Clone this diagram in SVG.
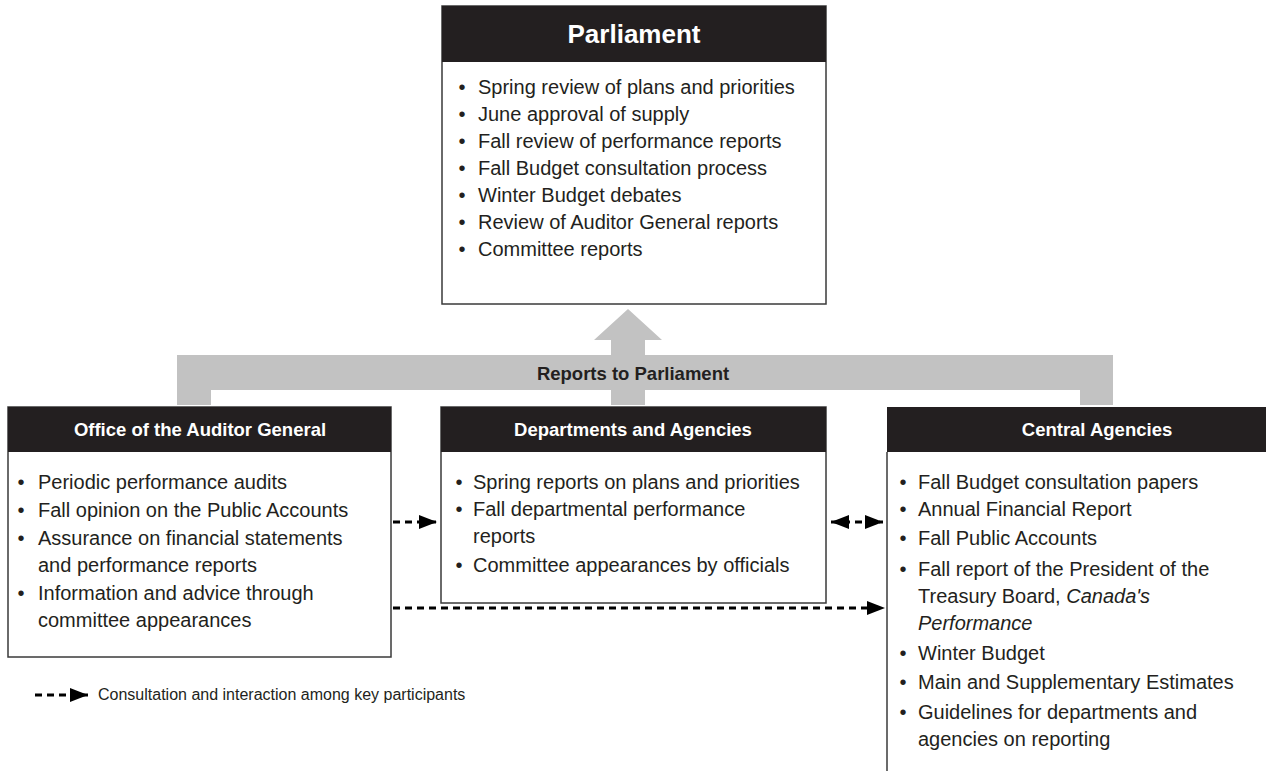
<svg xmlns="http://www.w3.org/2000/svg" width="1266" height="771" viewBox="0 0 1266 771">
<style>
.hdr{fill:#231f20}
.box{fill:#fff;stroke:#3a3a3a;stroke-width:1.5}
.ttl{font-family:"Liberation Sans",Arial,sans-serif;font-weight:bold;fill:#fff;text-anchor:middle}
.t{font-family:"Liberation Sans",Arial,sans-serif;font-size:20px;fill:#231f20}
.b{font-family:"Liberation Sans",Arial,sans-serif;font-size:20px;fill:#231f20;text-anchor:middle}
.dash{stroke:#000;stroke-width:3;stroke-dasharray:7 5;fill:none}
.grey{fill:#c2c2c2}
</style>
<defs>
<marker id="ah" markerUnits="userSpaceOnUse" markerWidth="18" markerHeight="14" refX="18" refY="7" orient="auto-start-reverse">
<path d="M0,0 L18,7 L0,14 z" fill="#000"/>
</marker>
</defs>

<g id="reports-arrow">
<path class="grey" d="M628,309 L662,340 L645,340 L645,355 L1113,355 L1113,405 L1080,405 L1080,390 L645,390 L645,405 L611,405 L611,390 L211,390 L211,405 L177,405 L177,355 L611,355 L611,340 L594,340 Z"/>
<text x="633" y="380" style="font-family:'Liberation Sans',Arial,sans-serif;font-weight:bold;font-size:18.5px;fill:#231f20" text-anchor="middle">Reports to Parliament</text>
</g>

<g id="parliament">
<rect class="box" x="442" y="6" width="384" height="298"/>
<rect class="hdr" x="442" y="6" width="384" height="56"/>
<text class="ttl" x="634" y="43" font-size="26">Parliament</text>
<text class="b" x="462" y="94">•</text><text class="t" x="478" y="94">Spring review of plans and priorities</text>
<text class="b" x="462" y="121">•</text><text class="t" x="478" y="121">June approval of supply</text>
<text class="b" x="462" y="148">•</text><text class="t" x="478" y="148">Fall review of performance reports</text>
<text class="b" x="462" y="175">•</text><text class="t" x="478" y="175">Fall Budget consultation process</text>
<text class="b" x="462" y="202">•</text><text class="t" x="478" y="202">Winter Budget debates</text>
<text class="b" x="462" y="229">•</text><text class="t" x="478" y="229">Review of Auditor General reports</text>
<text class="b" x="462" y="256">•</text><text class="t" x="478" y="256">Committee reports</text>
</g>

<g id="auditor-general">
<rect class="box" x="8" y="407" width="383" height="250"/>
<rect class="hdr" x="8" y="407" width="383" height="45"/>
<text class="ttl" x="200" y="436" font-size="18.5">Office of the Auditor General</text>
<text class="b" x="21" y="489">•</text><text class="t" x="38" y="489">Periodic performance audits</text>
<text class="b" x="21" y="517">•</text><text class="t" x="38" y="517">Fall opinion on the Public Accounts</text>
<text class="b" x="21" y="545">•</text><text class="t" x="38" y="545">Assurance on financial statements</text>
<text class="t" x="38" y="572">and performance reports</text>
<text class="b" x="21" y="600">•</text><text class="t" x="38" y="600">Information and advice through</text>
<text class="t" x="38" y="627">committee appearances</text>
</g>

<g id="departments">
<rect class="box" x="441" y="407" width="385" height="196"/>
<rect class="hdr" x="441" y="407" width="385" height="45"/>
<text class="ttl" x="633" y="436" font-size="18.5">Departments and Agencies</text>
<text class="b" x="459" y="489">•</text><text class="t" x="473" y="489">Spring reports on plans and priorities</text>
<text class="b" x="459" y="516">•</text><text class="t" x="473" y="516">Fall departmental performance</text>
<text class="t" x="473" y="543">reports</text>
<text class="b" x="459" y="572">•</text><text class="t" x="473" y="572">Committee appearances by officials</text>
</g>

<g id="central-agencies">
<rect class="hdr" x="887" y="407" width="379" height="45"/>
<line x1="887" y1="452" x2="887" y2="771" stroke="#3a3a3a" stroke-width="1.5"/>
<text class="ttl" x="1097" y="436" font-size="18.5">Central Agencies</text>
<text class="b" x="903" y="489">•</text><text class="t" x="918" y="489">Fall Budget consultation papers</text>
<text class="b" x="903" y="516">•</text><text class="t" x="918" y="516">Annual Financial Report</text>
<text class="b" x="903" y="545">•</text><text class="t" x="918" y="545">Fall Public Accounts</text>
<text class="b" x="903" y="576">•</text><text class="t" x="918" y="576">Fall report of the President of the</text>
<text class="t" x="918" y="603">Treasury Board, <tspan font-style="italic">Canada's</tspan></text>
<text class="t" x="918" y="630" font-style="italic">Performance</text>
<text class="b" x="903" y="660">•</text><text class="t" x="918" y="660">Winter Budget</text>
<text class="b" x="903" y="689">•</text><text class="t" x="918" y="689">Main and Supplementary Estimates</text>
<text class="b" x="903" y="719">•</text><text class="t" x="918" y="719">Guidelines for departments and</text>
<text class="t" x="918" y="746">agencies on reporting</text>
</g>

<g id="connectors">
<line class="dash" x1="393" y1="522" x2="437" y2="522" marker-end="url(#ah)"/>
<line class="dash" x1="831" y1="522" x2="883" y2="522" marker-start="url(#ah)" marker-end="url(#ah)"/>
<line class="dash" x1="393" y1="608" x2="885" y2="608" marker-end="url(#ah)"/>
</g>

<g id="legend">
<line class="dash" x1="35" y1="695" x2="88" y2="695" marker-end="url(#ah)"/>
<text x="98" y="700" style="font-family:'Liberation Sans',Arial,sans-serif;font-size:16px;fill:#231f20">Consultation and interaction among key participants</text>
</g>
</svg>
